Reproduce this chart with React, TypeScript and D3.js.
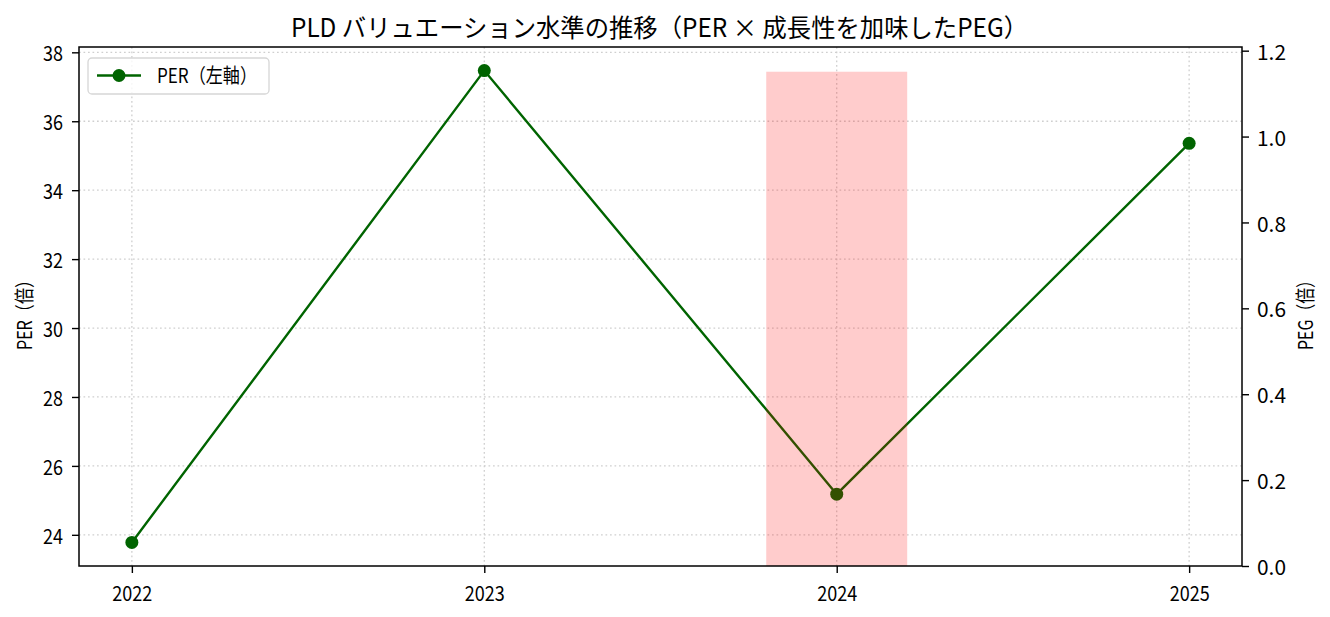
import { useEffect, useRef } from "react";
import * as d3 from "d3";

// Data
const years = [2022, 2023, 2024, 2025];
const perValues = [23.78, 37.47, 25.18, 35.36];
const pegYears = [2024];
const pegValues = [1.151];

const perTicks = [24, 26, 28, 30, 32, 34, 36, 38];
const pegTicks = [0, 0.2, 0.4, 0.6, 0.8, 1.0, 1.2];

const titleText = "PLD バリュエーション水準の推移（PER × 成長性を加味したPEG）";
const leftLabel = "PER（倍）";
const rightLabel = "PEG（倍）";
const legendLabel = "PER（左軸）";

const FONT = "'Noto Sans CJK JP', 'Noto Sans', sans-serif";

export default function App() {
  const svgRef = useRef<SVGSVGElement>(null);
  const width = 1330;
  const height = 617;

  useEffect(() => {
    if (!svgRef.current) return;
    const svg = d3.select(svgRef.current);
    svg.selectAll("*").remove();

    const left = 79;
    const right = 1242;
    const top = 47;
    const bottom = 566;

    // matplotlib style 5% margins
    const xPad = (d3.max(years)! - d3.min(years)!) * 0.05;
    const x = d3
      .scaleLinear()
      .domain([d3.min(years)! - xPad, d3.max(years)! + xPad])
      .range([left, right]);

    const perMin = d3.min(perValues)!;
    const perMax = d3.max(perValues)!;
    const perPad = (perMax - perMin) * 0.05;
    const yL = d3
      .scaleLinear()
      .domain([perMin - perPad, perMax + perPad])
      .range([bottom, top]);

    const yR = d3
      .scaleLinear()
      .domain([0, d3.max(pegValues)! * 1.05])
      .range([bottom, top]);

    const gridColor = "#cfcfcf";
    const dash = "1.7,2.8";

    // Grid
    const grid = svg.append("g");
    grid
      .selectAll("line.h")
      .data(perTicks)
      .join("line")
      .attr("x1", left)
      .attr("x2", right)
      .attr("y1", (d) => yL(d))
      .attr("y2", (d) => yL(d))
      .attr("stroke", gridColor)
      .attr("stroke-width", 1.3)
      .attr("stroke-dasharray", dash);
    grid
      .selectAll("line.v")
      .data(years)
      .join("line")
      .attr("x1", (d) => x(d))
      .attr("x2", (d) => x(d))
      .attr("y1", top)
      .attr("y2", bottom)
      .attr("stroke", gridColor)
      .attr("stroke-width", 1.3)
      .attr("stroke-dasharray", dash);

    // PER line
    const line = d3
      .line<number>()
      .x((_, i) => x(years[i]))
      .y((d) => yL(d));
    svg
      .append("path")
      .datum(perValues)
      .attr("d", line)
      .attr("fill", "none")
      .attr("stroke", "#006400")
      .attr("stroke-width", 2.4);
    svg
      .append("g")
      .selectAll("circle")
      .data(perValues)
      .join("circle")
      .attr("cx", (_, i) => x(years[i]))
      .attr("cy", (d) => yL(d))
      .attr("r", 6.5)
      .attr("fill", "#006400");

    // PEG bar (right axis, drawn above)
    const barW = 0.4;
    svg
      .append("g")
      .selectAll("rect")
      .data(pegValues)
      .join("rect")
      .attr("x", (_, i) => x(pegYears[i] - barW / 2))
      .attr("width", (_, i) => x(pegYears[i] + barW / 2) - x(pegYears[i] - barW / 2))
      .attr("y", (d) => yR(d))
      .attr("height", (d) => yR(0) - yR(d))
      .attr("fill", "red")
      .attr("fill-opacity", 0.2);

    // Axes
    const tickStyle = (g: d3.Selection<SVGGElement, unknown, null, undefined>) => {
      g.select(".domain").remove();
      g.selectAll(".tick line").attr("stroke", "#000").attr("stroke-width", 1.4);
      g.selectAll(".tick text")
        .attr("fill", "#000")
        .attr("font-family", FONT)
        .attr("font-size", 20.5);
    };

    const xAxis = svg
      .append("g")
      .attr("transform", `translate(0,${bottom})`)
      .call(
        d3
          .axisBottom(x)
          .tickValues(years)
          .tickFormat((d) => String(d))
          .tickSize(7)
          .tickPadding(10)
      );
    tickStyle(xAxis);
    xAxis.selectAll(".tick text").attr("dy", "0.9em").attr("textLength", 40).attr("lengthAdjust", "spacingAndGlyphs");

    const yAxisL = svg
      .append("g")
      .attr("transform", `translate(${left},0)`)
      .call(d3.axisLeft(yL).tickValues(perTicks).tickFormat((d) => String(d)).tickSize(7).tickPadding(9));
    tickStyle(yAxisL);
    yAxisL.selectAll(".tick text").attr("dy", "0.42em").attr("textLength", 20).attr("lengthAdjust", "spacingAndGlyphs");

    const yAxisR = svg
      .append("g")
      .attr("transform", `translate(${right},0)`)
      .call(
        d3
          .axisRight(yR)
          .tickValues(pegTicks)
          .tickFormat((d) => d3.format(".1f")(d as number))
          .tickSize(7)
          .tickPadding(8)
      );
    tickStyle(yAxisR);
    yAxisR.selectAll(".tick text").attr("dy", "0.42em").attr("textLength", 29).attr("lengthAdjust", "spacingAndGlyphs");

    // Spines
    svg
      .append("rect")
      .attr("x", left)
      .attr("y", top)
      .attr("width", right - left)
      .attr("height", bottom - top)
      .attr("fill", "none")
      .attr("stroke", "#000")
      .attr("stroke-width", 1.5);

    // Legend
    const lg = svg.append("g").attr("transform", "translate(88,58)");
    lg.append("rect")
      .attr("width", 181)
      .attr("height", 36)
      .attr("rx", 4)
      .attr("fill", "#fff")
      .attr("fill-opacity", 0.8)
      .attr("stroke", "#d6d6d6")
      .attr("stroke-width", 1.3);
    lg.append("line")
      .attr("x1", 9)
      .attr("x2", 53)
      .attr("y1", 17.5)
      .attr("y2", 17.5)
      .attr("stroke", "#006400")
      .attr("stroke-width", 2.4);
    lg.append("circle").attr("cx", 31).attr("cy", 17.5).attr("r", 6.5).attr("fill", "#006400");
    lg.append("text")
      .attr("x", 69)
      .attr("y", 25)
      .attr("font-family", FONT)
      .attr("font-size", 20)
      .attr("textLength", 100)
      .attr("lengthAdjust", "spacingAndGlyphs")
      .text(legendLabel);

    // Title
    svg
      .append("text")
      .attr("x", 291)
      .attr("y", 37)
      .attr("font-family", FONT)
      .attr("font-size", 25)
      .attr("textLength", 737)
      .attr("lengthAdjust", "spacingAndGlyphs")
      .text(titleText);

    // Axis labels
    svg
      .append("text")
      .attr("transform", `translate(32,350) rotate(-90)`)
      .attr("font-family", FONT)
      .attr("font-size", 20)
      .attr("textLength", 78)
      .attr("lengthAdjust", "spacingAndGlyphs")
      .text(leftLabel);
    svg
      .append("text")
      .attr("transform", `translate(1313,350) rotate(-90)`)
      .attr("font-family", FONT)
      .attr("font-size", 20)
      .attr("textLength", 78)
      .attr("lengthAdjust", "spacingAndGlyphs")
      .text(rightLabel);
  }, []);

  return (
    <svg
      ref={svgRef}
      width={width}
      height={height}
      viewBox={`0 0 ${width} ${height}`}
      style={{ position: "absolute", left: 0, top: 0, background: "#fff" }}
    />
  );
}
